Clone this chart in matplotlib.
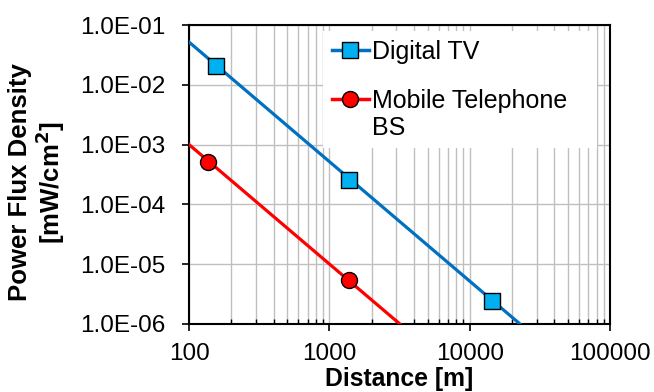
import numpy as np
import matplotlib
matplotlib.use("Agg")
import matplotlib.pyplot as plt
from matplotlib.ticker import LogLocator, FixedLocator, NullFormatter

plt.rcParams['font.family'] = ['Liberation Sans', 'DejaVu Sans']

# --- data ---
tv_line_x = [100, 22700]
tv_line_y = [5.2e-2, 1.0e-6]
tv_pts_x = [155, 1380, 14300]
tv_pts_y = [2.1e-2, 2.55e-4, 2.45e-6]

bs_line_x = [100, 3230]
bs_line_y = [1.0e-3, 9.6e-7]
bs_pts_x = [137, 1380]
bs_pts_y = [5.2e-4, 5.4e-6]

yticks = [1e-6, 1e-5, 1e-4, 1e-3, 1e-2, 1e-1]
ytick_labels = ["1.0E-06", "1.0E-05", "1.0E-04", "1.0E-03", "1.0E-02", "1.0E-01"]
xticks = [100, 1000, 10000, 100000]
xtick_labels = ["100", "1000", "10000", "100000"]

fig = plt.figure(figsize=(6.54, 3.92), dpi=100)
ax = fig.add_axes([0.289, 0.174, 0.644, 0.762])

blue = "#0070C0"
red = "#FF0000"

ax.plot(tv_line_x, tv_line_y, color=blue, lw=2.3, zorder=3)
ax.plot(tv_pts_x, tv_pts_y, ls="none", marker="s", ms=11.5, mfc="#00B0F0",
        mec="black", mew=1.0, zorder=4)
ax.plot(bs_line_x, bs_line_y, color=red, lw=2.3, zorder=3)
ax.plot(bs_pts_x, bs_pts_y, ls="none", marker="o", ms=11.5, mfc=red,
        mec="black", mew=1.0, zorder=4)

# legend proxies (line + marker)
h1, = ax.plot([], [], color=blue, lw=2.5, marker="s", ms=11.5, mfc="#00B0F0",
              mec="black", mew=1.0)
h2, = ax.plot([], [], color=red, lw=2.5, marker="o", ms=11.5, mfc=red,
              mec="black", mew=1.0)

ax.set_xscale("log")
ax.set_yscale("log")
ax.set_xlim(100, 100000)
ax.set_ylim(1e-6, 1e-1)

ax.yaxis.set_major_locator(FixedLocator(yticks))
ax.set_yticklabels(ytick_labels)
ax.yaxis.set_minor_locator(FixedLocator([]))
ax.xaxis.set_major_locator(FixedLocator(xticks))
ax.set_xticklabels(xtick_labels)
ax.xaxis.set_minor_locator(LogLocator(base=10, subs=np.arange(2, 10)))
ax.xaxis.set_minor_formatter(NullFormatter())

ax.tick_params(axis="both", which="major", labelsize=17.5, length=5,
               width=1.2, direction="out", color="black")
ax.tick_params(axis="y", pad=12)
ax.tick_params(axis="x", pad=9)
ax.tick_params(axis="x", which="minor", length=3.5, width=1.0,
               direction="in", color="black")

ax.grid(True, which="major", color="#bfbfbf", lw=1.0)
ax.grid(True, which="minor", axis="x", color="#bfbfbf", lw=1.0)
ax.set_axisbelow(True)

for s in ax.spines.values():
    s.set_color("black")
    s.set_linewidth(1.5)

ax.set_xlabel("Distance [m]", fontsize=17.8, fontweight="bold", labelpad=1)
ax.set_ylabel("Power Flux Density\n[mW/cm$^\\mathbf{2}$]", fontsize=18.5,
              fontweight="bold", linespacing=1.05)
ax.yaxis.set_label_coords(-0.29, 0.473)

leg = ax.legend([h1, h2], ["Digital TV", "Mobile Telephone\nBS"],
                loc="upper left", bbox_to_anchor=(0.318, 0.980, 0.651, 0),
                mode="expand",
                fontsize=18, frameon=True, fancybox=False, framealpha=1.0,
                facecolor="white", edgecolor="none", handlelength=1.5,
                handleheight=1.1, handletextpad=0.12, labelspacing=1.0,
                borderpad=0.35, borderaxespad=0)
leg.set_zorder(5)
for t in leg.get_texts():
    t.set_linespacing(1.15)
# keep the handle beside the first line of a two-line label
for col in leg._legend_handle_box.get_children():
    for row in col.get_children():
        row.align = "top"

fig.savefig("out.png", dpi=100)
